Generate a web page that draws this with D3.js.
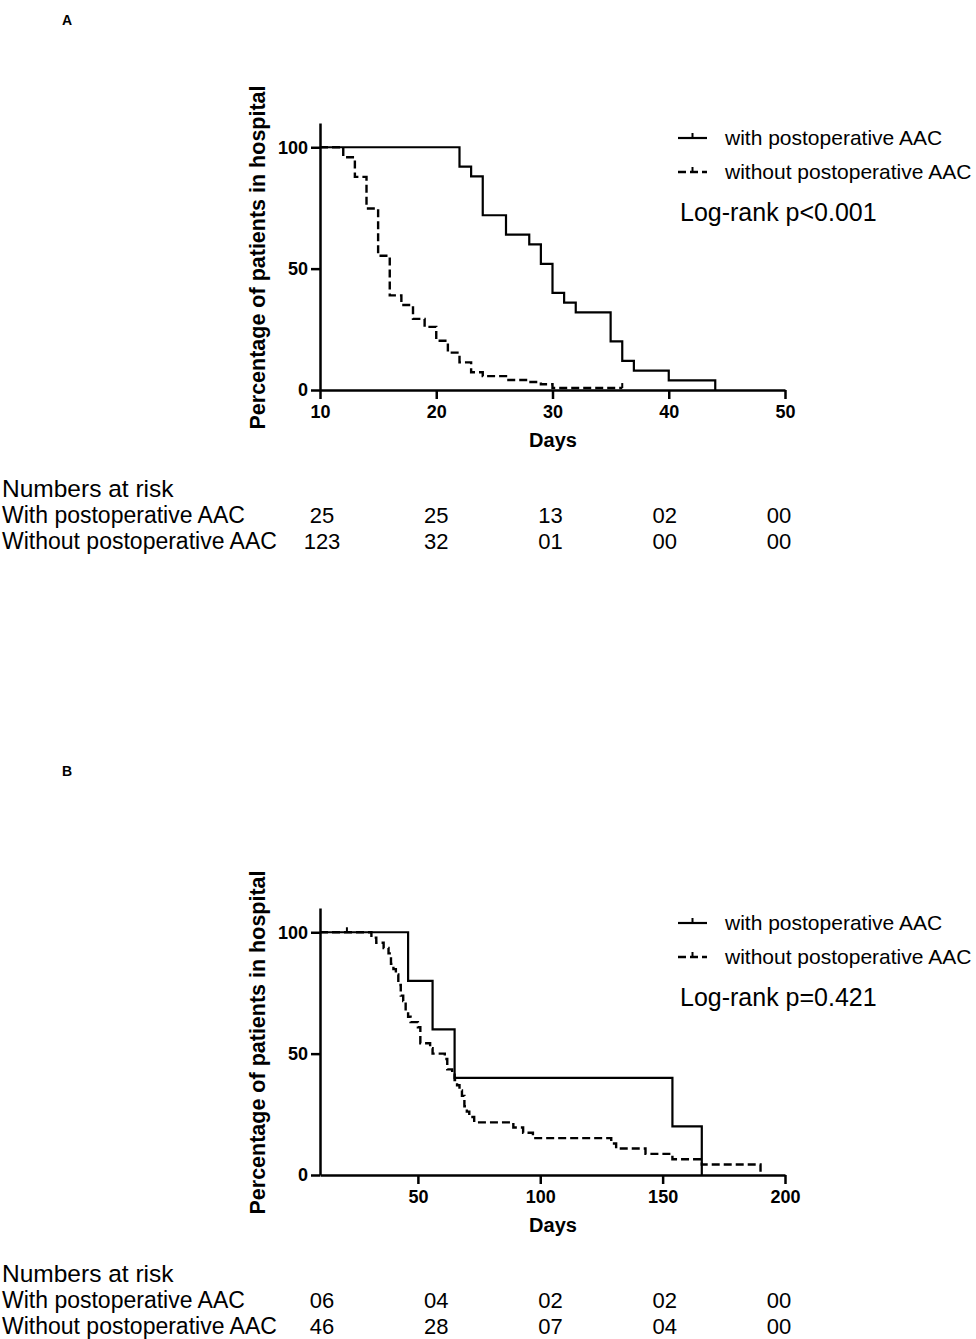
<!DOCTYPE html>
<html>
<head>
<meta charset="utf-8">
<script src="https://cdn.jsdelivr.net/npm/d3@7"></script>
<style>
  body { margin: 0; background: #fff; }
  text { font-family: "Liberation Sans", Arial, sans-serif; fill: #000; }
</style>
</head>
<body>
<div id="chart"></div>
<script>
// Kaplan-Meier steps: [day, percent still in hospital]
const withA = [[10, 100], [22, 92], [23, 88], [24, 72], [26, 64], [28, 60], [29, 52], [30, 40],
  [31, 36], [32, 32], [35, 20], [36, 12], [37, 8], [40, 4], [44, 0]];
const withoutA = [[10, 100], [12, 95.9], [13, 87.8], [14, 74.8], [15, 55.3], [16, 39.0], [17, 35.0],
  [18, 29.3], [19, 26.0], [20, 20.3], [21, 15.4], [22, 11.4], [23, 7.3], [24, 5.7], [26, 4.1],
  [28, 3.3], [29, 2.4], [30, 0.8], [36, 0.8]];
const censorA = [[36, 0.8]];

const withB = [[10, 100], [46, 80], [56, 60], [65, 40], [154, 20], [166, 0]];
const withoutB = [[10, 100], [31, 97.8], [33, 95.7], [36, 93.5], [38, 91.3], [39, 87.0], [40, 84.8],
  [41, 82.6], [42, 78.3], [43, 73.9], [44, 71.7], [45, 67.4], [46, 65.2], [47, 63.0], [50, 60.9],
  [51, 54.3], [55, 52.2], [56, 50.0], [61, 47.8], [62, 43.5], [64, 41.3], [65, 39.1], [66, 37.0],
  [67, 34.8], [68, 32.6], [69, 28.3], [70, 26.1], [71, 23.9], [73, 21.7], [89, 19.6], [93, 17.4],
  [97, 15.2], [129, 13.0], [131, 10.9], [143, 8.7], [154, 6.5], [166, 4.3], [190, 0]];
const censorB = [[21, 100]];

const ticksA = [10, 20, 30, 40, 50];
const ticksB = [50, 100, 150, 200];
const yTicks = [0, 50, 100];

const riskRows = ["With postoperative AAC", "Without postoperative AAC"];
const riskA = [["25", "25", "13", "02", "00"], ["123", "32", "01", "00", "00"]];
const riskB = [["06", "04", "02", "02", "00"], ["46", "28", "07", "04", "00"]];

const seriesNames = ["with postoperative AAC", "without postoperative AAC"];

const svg = d3.select("#chart").append("svg")
  .attr("width", 976)
  .attr("height", 1339);

function drawPanel(opt) {
  const g = svg.append("g").attr("transform", `translate(0,${opt.top})`);

  const x = d3.scaleLinear().domain(opt.xDomain).range([320, 785]);
  const y = d3.scaleLinear().domain([0, 110]).range([390, 123]);

  // panel letter
  svg.append("text")
    .attr("x", 62).attr("y", opt.letterY)
    .style("font-size", "14px").style("font-weight", "bold")
    .text(opt.letter);

  // axes
  const xAxis = g.append("g")
    .attr("transform", "translate(0,390)")
    .call(d3.axisBottom(x).tickValues(opt.xTicks).tickSize(9).tickSizeOuter(0).tickPadding(6));
  const yAxis = g.append("g")
    .attr("transform", "translate(320,0)")
    .call(d3.axisLeft(y).tickValues(yTicks).tickSize(9).tickSizeOuter(0).tickPadding(3));

  [xAxis, yAxis].forEach(a => {
    a.selectAll("path, line").attr("stroke", "#000").attr("stroke-width", 2.5);
    a.selectAll("text")
      .style("font-family", '"Liberation Sans", Arial, sans-serif')
      .style("font-size", "18px").style("font-weight", "bold");
  });

  g.append("text")
    .attr("x", 553).attr("y", 447)
    .attr("text-anchor", "middle")
    .style("font-size", "20px").style("font-weight", "bold")
    .text("Days");

  g.append("text")
    .attr("transform", "translate(265,257.5) rotate(-90)")
    .attr("text-anchor", "middle")
    .style("font-size", "21.5px").style("font-weight", "bold")
    .text("Percentage of patients in hospital");

  // curves
  const line = d3.line()
    .x(d => x(d[0]))
    .y(d => y(d[1]))
    .curve(d3.curveStepAfter);

  g.append("path")
    .datum(opt.withData)
    .attr("d", line)
    .attr("fill", "none").attr("stroke", "#000").attr("stroke-width", 2.2);

  g.append("path")
    .datum(opt.withoutData)
    .attr("d", line)
    .attr("fill", "none").attr("stroke", "#000").attr("stroke-width", 2.4)
    .attr("stroke-dasharray", "8,4");

  // censor ticks
  g.selectAll(".censor")
    .data(opt.censor)
    .enter().append("line")
    .attr("x1", d => x(d[0])).attr("x2", d => x(d[0]))
    .attr("y1", d => y(d[1])).attr("y2", d => y(d[1]) - 5)
    .attr("stroke", "#000").attr("stroke-width", 2);

  // legend
  const leg = g.append("g").attr("transform", "translate(678,0)");
  leg.append("line").attr("x1", 0).attr("x2", 29).attr("y1", 138).attr("y2", 138)
    .attr("stroke", "#000").attr("stroke-width", 2.2);
  leg.append("line").attr("x1", 14.5).attr("x2", 14.5).attr("y1", 138).attr("y2", 133)
    .attr("stroke", "#000").attr("stroke-width", 2);
  leg.append("line").attr("x1", 0).attr("x2", 29).attr("y1", 172).attr("y2", 172)
    .attr("stroke", "#000").attr("stroke-width", 2.4).attr("stroke-dasharray", "8,4");
  leg.append("line").attr("x1", 14.5).attr("x2", 14.5).attr("y1", 172).attr("y2", 167)
    .attr("stroke", "#000").attr("stroke-width", 2);

  seriesNames.forEach((name, i) => {
    leg.append("text")
      .attr("x", 47).attr("y", 145 + i * 34)
      .style("font-size", "21px")
      .text(name);
  });

  leg.append("text")
    .attr("x", 2).attr("y", 221)
    .style("font-size", "25px")
    .text(opt.pText);

  // numbers at risk table
  g.append("text")
    .attr("x", 2).attr("y", 497)
    .style("font-size", "24.5px")
    .text("Numbers at risk");

  const col = d3.scalePoint().domain(d3.range(5)).range([322, 779]);

  riskRows.forEach((label, r) => {
    g.append("text")
      .attr("x", 2).attr("y", 523 + r * 26)
      .style("font-size", "23px")
      .text(label);
    g.selectAll(".risk" + r)
      .data(opt.risk[r])
      .enter().append("text")
      .attr("x", (d, i) => col(i))
      .attr("y", 523 + r * 26)
      .attr("text-anchor", "middle")
      .style("font-size", "22px")
      .text(d => d);
  });
}

drawPanel({
  top: 0, letter: "A", letterY: 25,
  xDomain: [10, 50], xTicks: ticksA,
  withData: withA, withoutData: withoutA, censor: censorA,
  pText: "Log-rank p<0.001", risk: riskA
});

drawPanel({
  top: 785, letter: "B", letterY: 776,
  xDomain: [10, 200], xTicks: ticksB,
  withData: withB, withoutData: withoutB, censor: censorB,
  pText: "Log-rank p=0.421", risk: riskB
});
</script>
</body>
</html>
